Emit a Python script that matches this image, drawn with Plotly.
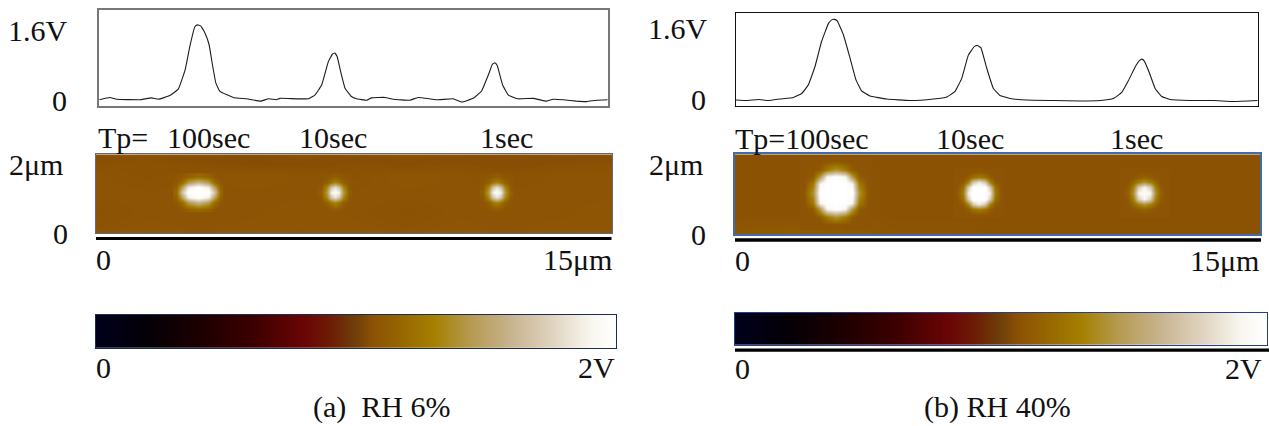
import plotly.graph_objects as go

W, H = 1269, 426
FONT = "Liberation Serif"

# ---- potential traces: position (um), potential (V)
trace_a_x = [0.00,0.31,0.51,1.20,1.54,1.74,2.08,2.33,2.53,2.67,2.82,2.89,2.99,3.12,3.24,3.34,3.44,3.56,3.95,4.35,4.76,4.99,5.23,5.33,6.17,6.36,6.56,6.76,6.88,6.95,7.02,7.12,7.25,7.44,7.59,7.89,8.03,8.43,8.67,9.16,9.41,9.95,10.44,10.69,11.03,11.28,11.48,11.60,11.67,11.74,11.90,12.07,12.36,12.80,13.20,13.39,13.69,14.08,14.38,14.67,15.00]
trace_a_v = [-0.01,0.04,0.00,-0.01,0.03,0.00,0.08,0.22,0.63,1.14,1.57,1.61,1.59,1.43,1.18,0.74,0.35,0.17,0.04,0.01,-0.04,0.01,-0.01,0.02,0.01,0.09,0.31,0.82,0.98,1.00,0.92,0.60,0.24,0.06,0.01,-0.02,0.03,0.04,0.00,-0.02,0.04,-0.01,0.01,-0.06,0.02,0.18,0.53,0.76,0.79,0.73,0.31,0.09,0.01,0.02,-0.04,0.00,-0.01,-0.04,-0.05,-0.02,-0.01]
trace_b_x = [0.00,0.31,0.64,0.93,1.27,1.65,1.89,2.08,2.27,2.46,2.66,2.75,2.83,2.91,3.09,3.28,3.45,3.61,3.85,4.33,5.00,5.68,6.06,6.30,6.49,6.68,6.85,6.94,7.04,7.21,7.40,7.59,7.88,8.36,9.13,9.89,10.47,10.85,11.09,11.28,11.48,11.60,11.67,11.74,11.89,12.05,12.24,12.48,13.06,13.73,14.31,15.00]
trace_b_v = [0.00,-0.01,0.01,-0.01,0.02,0.05,0.13,0.30,0.66,1.16,1.52,1.59,1.60,1.57,1.29,0.83,0.40,0.18,0.08,0.02,-0.01,0.02,0.06,0.17,0.43,0.89,1.06,1.08,1.04,0.63,0.23,0.09,0.03,0.00,-0.01,-0.02,-0.01,0.03,0.15,0.38,0.66,0.78,0.81,0.77,0.53,0.23,0.07,0.01,-0.01,-0.01,-0.03,-0.01]

# ---- colour scale levels (V) and the strip values
color_levels = [0.0,0.2,0.4,0.6,0.8,0.9,1.0,1.06,1.3,1.44,1.6,1.76,1.9,2.0]
color_values = ["#00001c","#040006","#1c0000","#3c0000","#6a0505","#6c1c05","#70400a","#8a5004","#a58000","#b59a50","#c8b490","#e0d4c0","#f8f6ee","#ffffff"]
strip_levels = [0.0,0.2,0.4,0.6,0.8,0.9,1.0,1.06,1.3,1.44,1.6,1.76,1.9,2.0]

# ---- background potential maps
bg_a_x = [0.0,1.5,3.0,4.5,6.0,7.5,9.0,10.5,12.0,13.5,15.0]
bg_a_y = [0.0,0.5,1.0,1.5,1.75,1.92,2.0]
bg_a_z = [
 [1.08,1.09,1.08,1.09,1.08,1.09,1.08,1.09,1.08,1.09,1.08],
 [1.07,1.08,1.08,1.08,1.09,1.08,1.07,1.08,1.08,1.08,1.09],
 [1.08,1.08,1.08,1.08,1.08,1.08,1.08,1.08,1.08,1.08,1.08],
 [1.08,1.07,1.08,1.09,1.08,1.07,1.09,1.08,1.07,1.08,1.08],
 [1.07,1.07,1.06,1.05,1.05,1.06,1.05,1.06,1.05,1.06,1.07],
 [1.05,1.06,1.05,1.05,1.06,1.05,1.06,1.05,1.06,1.05,1.05],
 [1.08,1.09,1.08,1.07,1.08,1.08,1.09,1.08,1.07,1.08,1.08],
]
bg_b_x = [0.0,1.5,3.0,4.5,6.0,7.5,9.0,10.5,12.0,13.5,15.0]
bg_b_y = [0.0,0.5,1.0,1.5,2.0]
bg_b_z = [
 [1.1,1.12,1.12,1.08,1.08,1.07,1.07,1.07,1.07,1.07,1.07],
 [1.07,1.07,1.08,1.07,1.07,1.07,1.07,1.07,1.07,1.07,1.07],
 [1.07,1.07,1.08,1.07,1.07,1.07,1.07,1.07,1.07,1.07,1.07],
 [1.07,1.07,1.08,1.07,1.07,1.07,1.07,1.07,1.07,1.07,1.07],
 [1.07,1.07,1.07,1.07,1.07,1.07,1.07,1.07,1.07,1.07,1.07],
]

# ---- charged spots (a)
spot_a1_x = [2.33,2.50,2.68,2.97,3.26,3.44,3.61]
spot_a1_y = [0.62,0.78,0.90,1.03,1.16,1.28,1.44]
spot_a1_z = [
 [1.08,1.10,1.14,1.18,1.14,1.10,1.08],
 [1.10,1.20,1.45,1.60,1.45,1.20,1.10],
 [1.14,1.50,1.88,2.00,1.88,1.50,1.14],
 [1.18,1.70,2.00,2.00,2.00,1.70,1.18],
 [1.14,1.50,1.88,2.00,1.88,1.50,1.14],
 [1.10,1.20,1.45,1.60,1.45,1.20,1.10],
 [1.08,1.10,1.14,1.18,1.14,1.10,1.08],
]
spot_a2_x = [6.54,6.72,6.83,6.95,7.07,7.18,7.36]
spot_a2_y = [0.62,0.78,0.90,1.03,1.16,1.28,1.44]
spot_a2_z = [
 [1.08,1.09,1.10,1.12,1.10,1.09,1.08],
 [1.09,1.14,1.24,1.32,1.24,1.14,1.09],
 [1.10,1.35,1.68,1.82,1.68,1.35,1.10],
 [1.13,1.45,1.88,1.96,1.88,1.45,1.13],
 [1.10,1.35,1.68,1.82,1.68,1.35,1.10],
 [1.09,1.14,1.24,1.32,1.24,1.14,1.09],
 [1.08,1.09,1.10,1.12,1.10,1.09,1.08],
]
spot_a3_x = [11.24,11.42,11.53,11.65,11.77,11.88,12.06]
spot_a3_y = [0.62,0.78,0.90,1.03,1.16,1.28,1.44]
spot_a3_z = [
 [1.08,1.09,1.10,1.12,1.10,1.09,1.08],
 [1.09,1.14,1.24,1.32,1.24,1.14,1.09],
 [1.10,1.35,1.68,1.82,1.68,1.35,1.10],
 [1.13,1.45,1.88,1.96,1.88,1.45,1.13],
 [1.10,1.35,1.68,1.82,1.68,1.35,1.10],
 [1.09,1.14,1.24,1.32,1.24,1.14,1.09],
 [1.08,1.09,1.10,1.12,1.10,1.09,1.08],
]

# ---- charged spots (b)
spot_b1_x = [1.98,2.23,2.43,2.63,2.89,3.15,3.35,3.55,3.80]
spot_b1_y = [0.23,0.45,0.63,0.80,1.03,1.26,1.43,1.61,1.83]
spot_b1_z = [
 [1.08,1.08,1.08,1.08,1.09,1.08,1.08,1.08,1.08],
 [1.08,1.08,1.12,1.27,1.40,1.27,1.12,1.08,1.08],
 [1.08,1.12,1.45,1.92,2.00,1.92,1.45,1.12,1.08],
 [1.08,1.27,1.92,2.00,2.00,2.00,1.92,1.27,1.08],
 [1.09,1.40,2.00,2.00,2.00,2.00,2.00,1.40,1.09],
 [1.08,1.27,1.92,2.00,2.00,2.00,1.92,1.27,1.08],
 [1.08,1.12,1.45,1.92,2.00,1.92,1.45,1.12,1.08],
 [1.08,1.08,1.12,1.27,1.40,1.27,1.12,1.08,1.08],
 [1.08,1.08,1.08,1.08,1.09,1.08,1.08,1.08,1.08],
]
spot_b2_x = [6.34,6.51,6.66,6.80,6.97,7.14,7.28,7.43,7.60]
spot_b2_y = [0.48,0.63,0.75,0.88,1.03,1.18,1.31,1.43,1.58]
spot_b2_z = [
 [1.08,1.08,1.08,1.08,1.09,1.08,1.08,1.08,1.08],
 [1.08,1.08,1.12,1.22,1.28,1.22,1.12,1.08,1.08],
 [1.08,1.12,1.30,1.70,1.85,1.70,1.30,1.12,1.08],
 [1.08,1.22,1.70,2.00,2.00,2.00,1.70,1.22,1.08],
 [1.09,1.28,1.85,2.00,2.00,2.00,1.85,1.28,1.09],
 [1.08,1.22,1.70,2.00,2.00,2.00,1.70,1.22,1.08],
 [1.08,1.12,1.30,1.70,1.85,1.70,1.30,1.12,1.08],
 [1.08,1.08,1.12,1.22,1.28,1.22,1.12,1.08,1.08],
 [1.08,1.08,1.08,1.08,1.09,1.08,1.08,1.08,1.08],
]
spot_b3_x = [11.06,11.23,11.38,11.52,11.69,11.86,12.00,12.15,12.32]
spot_b3_y = [0.48,0.63,0.75,0.88,1.03,1.18,1.31,1.43,1.58]
spot_b3_z = [
 [1.08,1.08,1.08,1.08,1.08,1.08,1.08,1.08,1.08],
 [1.08,1.08,1.09,1.12,1.15,1.12,1.09,1.08,1.08],
 [1.08,1.09,1.18,1.30,1.40,1.30,1.18,1.09,1.08],
 [1.08,1.12,1.30,1.72,1.90,1.72,1.30,1.12,1.08],
 [1.08,1.15,1.40,1.90,1.97,1.90,1.40,1.15,1.08],
 [1.08,1.12,1.30,1.72,1.90,1.72,1.30,1.12,1.08],
 [1.08,1.09,1.18,1.30,1.40,1.30,1.18,1.09,1.08],
 [1.08,1.08,1.09,1.12,1.15,1.12,1.09,1.08,1.08],
 [1.08,1.08,1.08,1.08,1.08,1.08,1.08,1.08,1.08],
]

# ---- text: (string, x, y, anchor)
labels = [
 ("1.6V", 8, 30, "left"), ("0", 52, 100, "left"),
 ("Tp=", 98, 137, "left"), ("100sec", 167, 137, "left"), ("10sec", 299, 137, "left"), ("1sec", 480, 137, "left"),
 ("2\u03bcm", 9, 164, "left"), ("0", 53, 233, "left"),
 ("0", 96, 259, "left"), ("15\u03bcm", 612, 259, "right"),
 ("0", 96, 367, "left"), ("2V", 615, 367, "right"),
 ("(a)  RH 6%", 313, 407, "left"),
 ("1.6V", 648, 28, "left"), ("0", 691, 99, "left"),
 ("Tp=100sec", 735, 138, "left"), ("10sec", 936, 138, "left"), ("1sec", 1110, 138, "left"),
 ("2\u03bcm", 649, 165, "left"), ("0", 691, 234, "left"),
 ("0", 735, 260, "left"), ("15\u03bcm", 1259, 260, "right"),
 ("0", 735, 368, "left"), ("2V", 1262, 368, "right"),
 ("(b) RH 40%", 924, 407, "left"),
]

colorscale = [[lv / 2.0, c] for lv, c in zip(color_levels, color_values)]

fig = go.Figure()
layout = {}


def add_axes(n, x0, x1, y0, y1, xr, yr, color, lw):
    sx = "" if n == 1 else str(n)
    layout["xaxis" + sx] = dict(domain=[x0 / W, x1 / W], range=xr, anchor="y" + sx, visible=True,
                                showticklabels=False, ticks="", showgrid=False, zeroline=False,
                                showline=True, mirror=True, linecolor=color, linewidth=lw)
    layout["yaxis" + sx] = dict(domain=[1 - y1 / H, 1 - y0 / H], range=yr, anchor="x" + sx, visible=True,
                                showticklabels=False, ticks="", showgrid=False, zeroline=False,
                                showline=True, mirror=True, linecolor=color, linewidth=lw)
    return "x" + sx, "y" + sx


def add_map(x, y, z, xa, ya):
    fig.add_trace(go.Heatmap(x=x, y=y, z=z, xaxis=xa, yaxis=ya, colorscale=colorscale, zmin=0, zmax=2,
                             zsmooth="best", showscale=False, hoverinfo="skip"))


# line panels
xa, ya = add_axes(1, 99.3, 607.7, 9.7, 105.7, [0, 15], [-0.139, 1.939], "#777777", 1.6)
fig.add_trace(go.Scatter(x=trace_a_x, y=trace_a_v, xaxis=xa, yaxis=ya, mode="lines",
                         line=dict(color="#1c1c1c", width=1.1, shape="spline", smoothing=0.3)))
xa, ya = add_axes(2, 736, 1257.7, 13, 106, [0, 15], [-0.119, 1.726], "#111111", 1.3)
fig.add_trace(go.Scatter(x=trace_b_x, y=trace_b_v, xaxis=xa, yaxis=ya, mode="lines",
                         line=dict(color="#1c1c1c", width=1.1, shape="spline", smoothing=0.3)))

# potential maps
xa, ya = add_axes(3, 96, 612, 154.3, 233.3, [0, 15], [0, 2], "#5f6a80", 1.2)
add_map(bg_a_x, bg_a_y, bg_a_z, xa, ya)
add_map(spot_a1_x, spot_a1_y, spot_a1_z, xa, ya)
add_map(spot_a2_x, spot_a2_y, spot_a2_z, xa, ya)
add_map(spot_a3_x, spot_a3_y, spot_a3_z, xa, ya)
xa, ya = add_axes(4, 735, 1260, 154.3, 234.3, [0, 15], [0, 2], "#3f6cb0", 1.6)
add_map(bg_b_x, bg_b_y, bg_b_z, xa, ya)
add_map(spot_b1_x, spot_b1_y, spot_b1_z, xa, ya)
add_map(spot_b2_x, spot_b2_y, spot_b2_z, xa, ya)
add_map(spot_b3_x, spot_b3_y, spot_b3_z, xa, ya)

# colour strips
xa, ya = add_axes(5, 96, 615.7, 315, 347.7, [0, 2], [0, 1], "#1c2c55", 1.3)
add_map(strip_levels, [0, 1], [strip_levels, strip_levels], xa, ya)
xa, ya = add_axes(6, 735, 1267, 312.7, 345, [0, 2], [0, 1], "#24408a", 1.0)
add_map(strip_levels, [0, 1], [strip_levels, strip_levels], xa, ya)

shapes = []
for x0, x1, y0, y1 in [(96, 611.5, 237, 240), (735, 1261, 238.3, 241.7), (735, 1269, 348.5, 351.8)]:
    shapes.append(dict(type="rect", xref="paper", yref="paper", x0=x0 / W, x1=x1 / W,
                       y0=1 - y1 / H, y1=1 - y0 / H, fillcolor="#000000", line=dict(width=0)))

annotations = [dict(text=t, x=x / W, y=1 - y / H, xref="paper", yref="paper", xanchor=a, yanchor="middle",
                    showarrow=False, font=dict(family=FONT, size=30, color="#111111"), borderpad=0, borderwidth=0)
               for t, x, y, a in labels]

fig.update_layout(width=W, height=H, margin=dict(l=0, r=0, t=0, b=0), showlegend=False,
                  paper_bgcolor="white", plot_bgcolor="white", shapes=shapes, annotations=annotations,
                  font=dict(family=FONT), **layout)

fig.write_html("out.html", config={"displayModeBar": False},
               post_script="document.body.style.margin='0';document.body.style.overflow='hidden';")
